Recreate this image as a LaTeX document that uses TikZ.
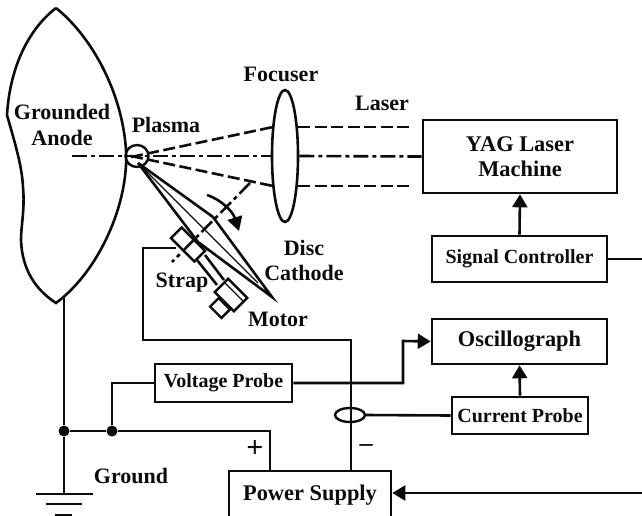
\documentclass[tikz,border=0pt]{standalone}
\usepackage{fontspec}
\setmainfont{Liberation Serif}
\usepackage{xcolor}
\usetikzlibrary{arrows.meta}
\usetikzlibrary{shapes.geometric}
\definecolor{ColInk}{RGB}{12,12,12}
\tikzstyle{BoxBig}=[draw=ColInk,line width=2.6pt,inner sep=0pt,align=center,text=ColInk,
font=\fontsize{22.4}{25}\selectfont\bfseries]
\tikzstyle{BoxSmall}=[BoxBig,font=\fontsize{20}{23}\selectfont\bfseries]
\tikzstyle{TextLabel}=[inner sep=0pt,align=center,text=ColInk,
font=\fontsize{22}{25.5}\selectfont\bfseries]
\tikzstyle{Wire}=[ColInk,line width=2.6pt]
\tikzstyle{WireArrow}=[Wire,-{Triangle[length=13pt,width=15pt]}]
\tikzstyle{BeamDash}=[ColInk,line width=2.6pt,dash pattern=on 12pt off 4.5pt]
\tikzstyle{BeamDashDot}=[ColInk,line width=2.6pt,dash pattern=on 15pt off 4pt on 4pt off 4pt]
\tikzstyle{Dot}=[circle,fill=ColInk,inner sep=0pt,minimum size=11pt]
\tikzstyle{Body}=[draw=ColInk,line width=2.4pt,fill=white,rotate=-45,inner sep=0pt]

\begin{document}
\begin{tikzpicture}[x=1pt,y=-1pt]
        \useasboundingbox(0,0)rectangle(642,515);
        \clip(0,0)rectangle(642,515);
        % anode and lens
        \draw[Wire](56,8)..controls(90,35)and(122,90)..(126,150)
            ..controls(129,205)and(98,272)..(56,303)
            ..controls(36,290)and(22,270)..(21,240)
            ..controls(21,225)and(25,210)..(23,187)
            ..controls(22,165)and(14,140)..(7,115)
            ..controls(10,65)and(30,28)..(56,8);
        \node[TextLabel](anode)at(62,125){Grounded\\Anode};
        \node[draw=ColInk,line width=2.4pt,ellipse,inner sep=0pt,minimum width=23pt,minimum height=22pt](plasma)at(137,156){};
        \node[draw=ColInk,line width=2.6pt,ellipse,inner sep=0pt,minimum width=26pt,minimum height=132pt](lens)at(285,156){};
        % boxes
        \node[BoxBig,minimum width=194pt,minimum height=73pt](yag)at(520,156.5){YAG Laser\\Machine};
        \node[BoxSmall,minimum width=175pt,minimum height=46pt](signal)at(519.5,259){Signal Controller};
        \node[BoxBig,minimum width=175pt,minimum height=45pt](osc)at(519.5,341.5){Oscillograph};
        \node[BoxSmall,minimum width=136pt,minimum height=37pt](current)at(520,415.5){Current Probe};
        \node[BoxSmall,minimum width=137pt,minimum height=38pt](voltage)at(223.5,383){Voltage Probe};
        \node[BoxBig,minimum width=162pt,minimum height=48pt](supply)at(310,495){\raisebox{2pt}{Power Supply}};
        % text labels
        \node[TextLabel](focuser)at(281,74){Focuser};
        \node[TextLabel](laser)at(382,103){Laser};
        \node[TextLabel](plasmatext)at(166,125){Plasma};
        \node[TextLabel](disc)at(304,248){Disc};
        \node[TextLabel](cathode)at(304,273){Cathode};
        \node[TextLabel](strap)at(182,283){Strap};
        \node[TextLabel](motor)at(278,319){Motor};
        \node[TextLabel](ground)at(131,476){Ground};
        \node[TextLabel,font=\fontsize{30}{30}\selectfont\bfseries](plus)at(255,449){+};
        \node[TextLabel,font=\fontsize{26}{26}\selectfont\bfseries](minus)at(366,448){--};
        % beams
        \coordinate(axis)at(72,156);
        \coordinate(upA)at(131,157);\coordinate(upB)at(273,127);
        \coordinate(upC)at(298,127);\coordinate(upD)at(410,127);
        \coordinate(lowA)at(131,156);\coordinate(lowB)at(273,186);
        \coordinate(lowC)at(298,186);\coordinate(lowD)at(410,186);
        \draw[BeamDash](upA)--(upB);
        \draw[BeamDash](upC)--(upD);
        \draw[BeamDash](lowA)--(lowB);
        \draw[BeamDash](lowC)--(lowD);
        \draw[BeamDashDot](axis)--(lens.west);
        \draw[BeamDashDot](lens.east)--(yag.west);
        \coordinate(tiltA)at(250,183);\coordinate(tiltB)at(172,262);
        \draw[BeamDashDot](tiltA)--(tiltB);
        % disc cathode
        \coordinate(apex)at(138,163);\coordinate(discUp)at(213,217);
        \coordinate(discTip)at(272,297);\coordinate(discLow)at(198,242);
        \coordinate(discFocus)at(258,283);
        \draw[Wire](apex)--(discUp)--(discTip)--(discLow)--(apex);
        \draw[ColInk,line width=1.1pt](apex)--(discFocus);
        \draw[ColInk,line width=2.6pt,-{Triangle[length=14pt,width=15pt]}](207,195)..controls(222,200)and(233,212)..(239,231);
        % strap and motor
        \node[Body,minimum width=33pt,minimum height=15pt,fill=none](strapbody)at(188,244.5){};
        \coordinate(shaftA)at(197,260);\coordinate(shaftB)at(217,285);
        \coordinate(shaftC)at(205,255);\coordinate(shaftD)at(224,280);
        \draw[Wire](shaftA)--(shaftB);
        \draw[Wire](shaftC)--(shaftD);
        \node[Body,minimum width=27pt,minimum height=19pt](motorbody)at(231,295){};
        \node[Body,minimum width=16pt,minimum height=12pt](motorback)at(220,308){};
        \coordinate(motorA)at(225,283);\coordinate(motorB)at(243,301);
        \draw[ColInk,line width=1.4pt](motorA)--(motorB);
        % wires
        \coordinate(tap)at(176,248);
        \coordinate(foot)at(64,297);
        \node[Dot](dotA)at(64,431){};
        \node[Dot](dotB)at(112,431){};
        \coordinate(earth)at(64,494);
        \draw[Wire](foot)--(dotA)--(earth);
        \draw[Wire](dotA)--(dotB)-|([xshift=-40pt]supply.north);
        \draw[Wire](dotB)|-(voltage.west);
        \draw[Wire](tap)-|(143,340)-|(supply.north -|351,0);
        \draw[WireArrow](voltage.east)-|(403,341)--(osc.west);
        \draw[WireArrow](current.north)--(osc.south);
        \draw[WireArrow](signal.north)--(yag.south);
        \node[draw=ColInk,line width=2.4pt,ellipse,inner sep=0pt,minimum width=30pt,minimum height=14pt](ring)at(350,415){};
        \draw[Wire](ring.east)--(current.west);
        \coordinate(rightA)at(642,259);\coordinate(rightB)at(642,493);
        \draw[Wire](signal.east)--(rightA);
        \draw[WireArrow](rightB)--(supply.east |- rightB);
        % ground symbol
        \coordinate(barA)at(36,494);\coordinate(barB)at(93,494);
        \coordinate(barC)at(46,504);\coordinate(barD)at(82,504);
        \coordinate(barE)at(55,515);\coordinate(barF)at(72,515);
        \draw[Wire](barA)--(barB);
        \draw[Wire](barC)--(barD);
        \draw[Wire](barE)--(barF);
    \end{tikzpicture}
\end{document}
